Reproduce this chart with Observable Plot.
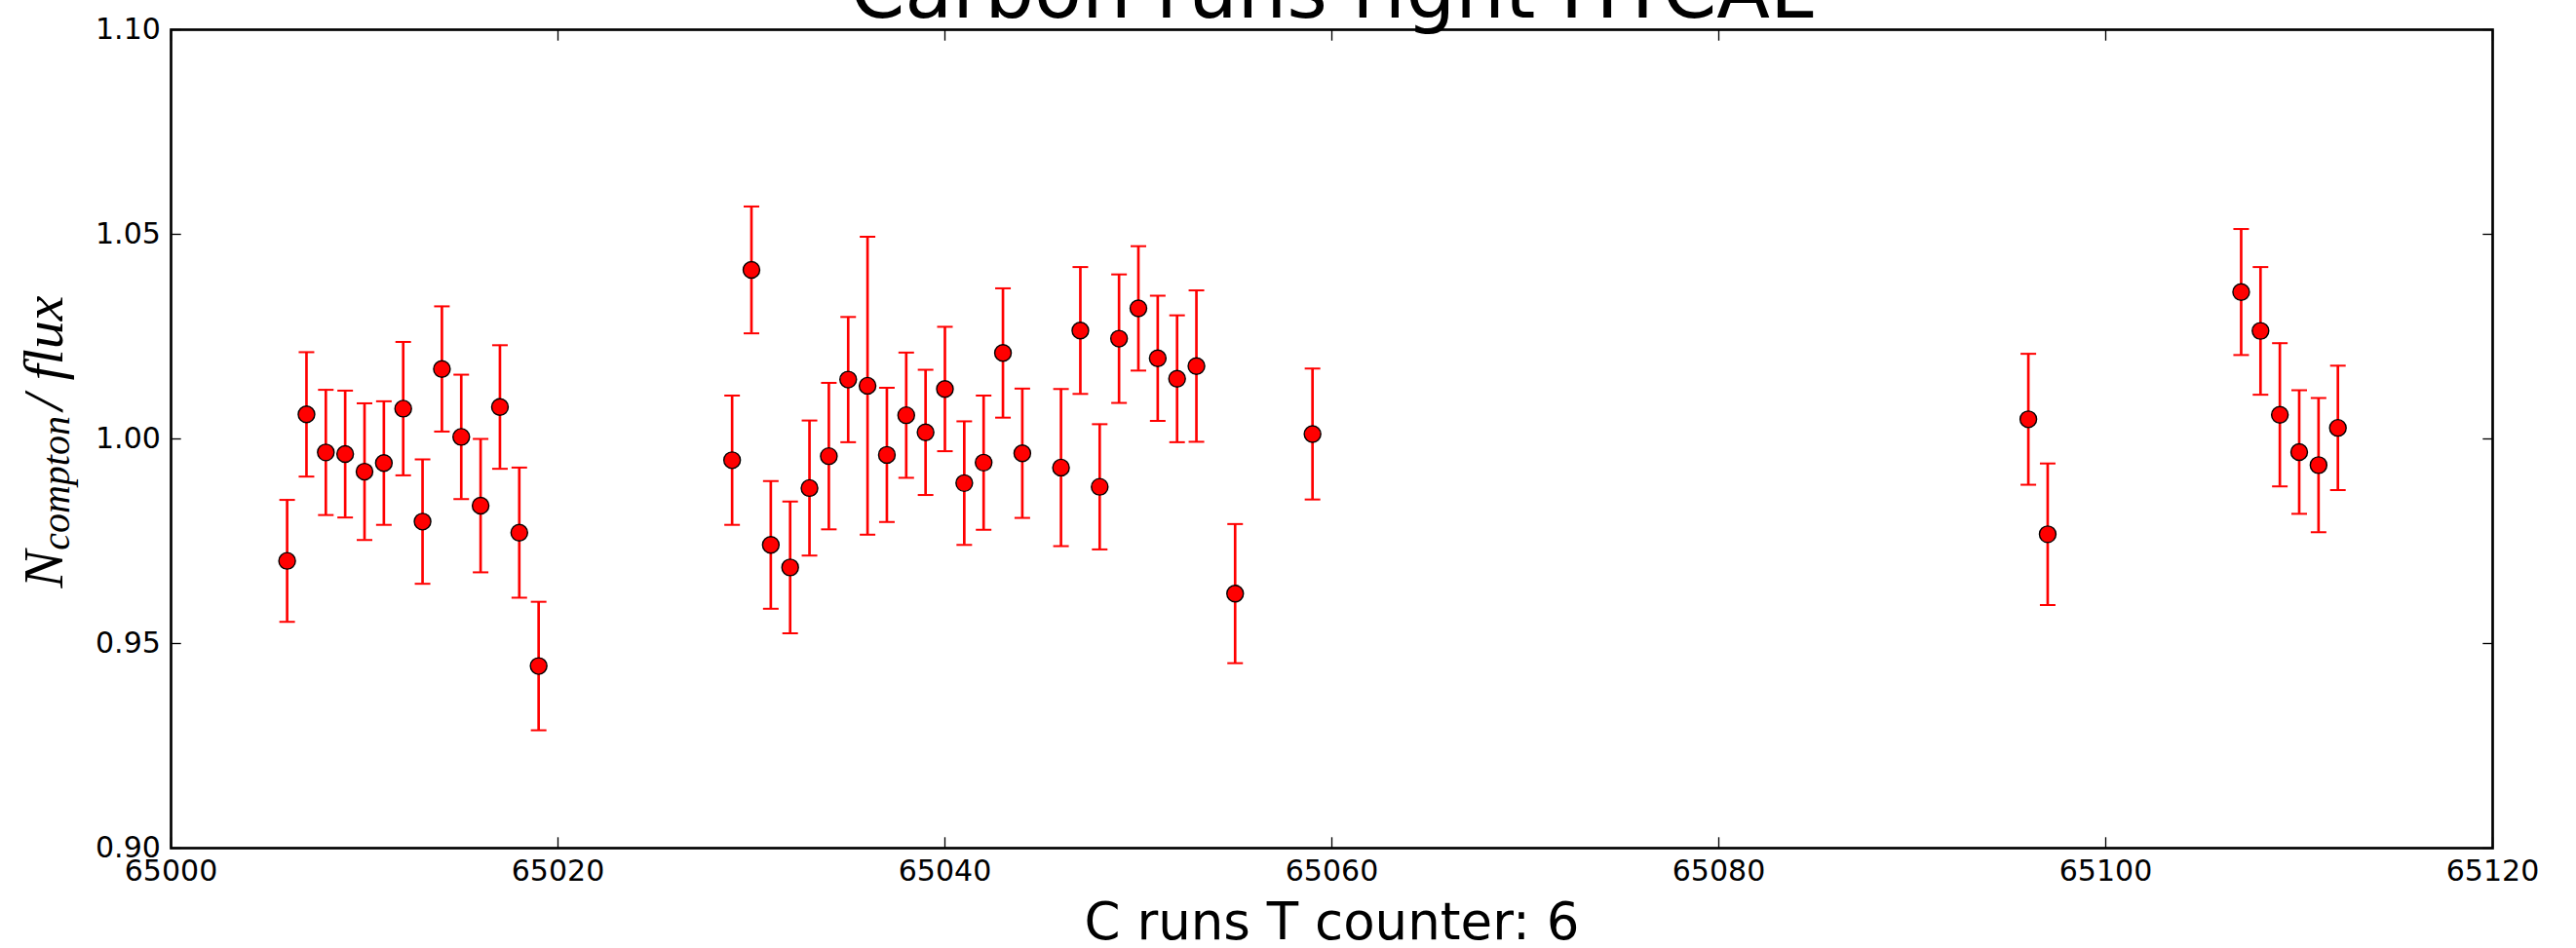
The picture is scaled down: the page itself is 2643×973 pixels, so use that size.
<!DOCTYPE html>
<html>
<head>
<meta charset="utf-8">
<script src="https://cdn.jsdelivr.net/npm/d3@7"></script>
<script src="https://cdn.jsdelivr.net/npm/@observablehq/plot@0.6"></script>
<style>
  html, body { margin: 0; padding: 0; background: #ffffff; }
  #chart svg { display: block; }
</style>
</head>
<body>
<div id="chart"></div>
<script>
// ---- data ----
const runs = [
  65006, 65007, 65008, 65009, 65010, 65011, 65012, 65013, 65014, 65015, 65016, 65017, 65018, 65019,
  65029, 65030, 65031, 65032, 65033, 65034, 65035, 65036, 65037, 65038, 65039, 65040, 65041, 65042, 65043, 65044,
  65046, 65047, 65048, 65049, 65050, 65051, 65052, 65053, 65055, 65059,
  65096, 65097, 65107, 65108, 65109, 65110, 65111, 65112
];
const ratio = [
  0.9702, 1.0060, 0.9967, 0.9963, 0.9920, 0.9941, 1.0074, 0.9798, 1.0171, 1.0005, 0.9837, 1.0078, 0.9771, 0.9445,
  0.9948, 1.0413, 0.9741, 0.9686, 0.9880, 0.9958, 1.0145, 1.0130, 0.9961, 1.0058, 1.0016, 1.0122, 0.9892, 0.9942, 1.0210, 0.9965,
  0.9930, 1.0265, 0.9883, 1.0245, 1.0319, 1.0197, 1.0147, 1.0178, 0.9622, 1.0012,
  1.0048, 0.9767, 1.0359, 1.0264, 1.0059, 0.9968, 0.9936, 1.0027
];
const err = [
  0.0149, 0.0152, 0.0153, 0.0155, 0.0167, 0.0151, 0.0163, 0.0152, 0.0153, 0.0152, 0.0163, 0.0151, 0.0159, 0.0157,
  0.0158, 0.0155, 0.0156, 0.0161, 0.0165, 0.0179, 0.0153, 0.0364, 0.0164, 0.0153, 0.0153, 0.0152, 0.0151, 0.0164, 0.0158, 0.0158,
  0.0192, 0.0155, 0.0153, 0.0157, 0.0152, 0.0153, 0.0155, 0.0185, 0.0170, 0.0160,
  0.0160, 0.0173, 0.0154, 0.0156, 0.0175, 0.0151, 0.0164, 0.0152
];
const xTicks = [65000, 65020, 65040, 65060, 65080, 65100, 65120];
const yTicks = [0.90, 0.95, 1.00, 1.05, 1.10];
const xDomain = [65000, 65120];
const yDomain = [0.90, 1.10];
const title = "Carbon runs right HYCAL";
const xLabel = "C runs T counter: 6";
const yLabelParts = ["N", "compton", "/ flux"];

// ---- table built from the arrays ----
const data = runs.map((r, i) => ({run: r, v: ratio[i], lo: ratio[i] - err[i], hi: ratio[i] + err[i]}));

// horizontal cap symbol (half-width = dot radius)
const capSymbol = {
  draw(ctx, size) {
    const w = Math.sqrt(size / Math.PI);
    ctx.moveTo(-w, 0);
    ctx.lineTo(w, 0);
  }
};

const RED = "#ff0000";
const plot = Plot.plot({
  width: 2643,
  height: 973,
  marginLeft: 175,
  marginRight: 86,
  marginTop: 30,
  marginBottom: 103,
  style: {fontFamily: "'DejaVu Sans', sans-serif", background: "#ffffff", color: "#000000", overflow: "visible"},
  x: {domain: xDomain},
  y: {domain: yDomain},
  marks: [
    Plot.ruleX(data, {x: "run", y1: "lo", y2: "hi", stroke: RED, strokeWidth: 2.67}),
    Plot.dot(data, {x: "run", y: "lo", symbol: capSymbol, r: 8, stroke: RED, strokeWidth: 2, fill: "none"}),
    Plot.dot(data, {x: "run", y: "hi", symbol: capSymbol, r: 8, stroke: RED, strokeWidth: 2, fill: "none"}),
    Plot.dot(data, {x: "run", y: "v", r: 8.5, fill: RED, stroke: "#000000", strokeWidth: 1.4}),
    Plot.axisX({anchor: "bottom", ticks: xTicks, tickSize: -10.7, tickPadding: 23, tickFormat: d => String(d), fontSize: 30, strokeWidth: 1.33, label: null}),
    Plot.axisX({anchor: "top", ticks: xTicks, tickSize: -10.7, fill: "none", strokeWidth: 1.33, label: null}),
    Plot.axisY({anchor: "left", ticks: yTicks, tickSize: -10.7, tickPadding: 21.4, tickFormat: d3.format(".2f"), fontSize: 30, strokeWidth: 1.33, label: null}),
    Plot.axisY({anchor: "right", ticks: yTicks, tickSize: -10.7, fill: "none", strokeWidth: 1.33, label: null}),
    Plot.frame({stroke: "#000000", strokeWidth: 2.67}),
    Plot.text([title], {frameAnchor: "top", dy: -13, lineAnchor: "bottom", fontSize: 80, fill: "#000000"}),
    Plot.text([xLabel], {frameAnchor: "bottom", dy: 93, lineAnchor: "bottom", fontSize: 53, fill: "#000000"}),
    Plot.text([yLabelParts.join("")], {frameAnchor: "left", dx: -130, dy: 3, rotate: -90, lineAnchor: "middle", textAnchor: "middle",
      fontSize: 58, fontFamily: "'Liberation Serif', serif", fontStyle: "italic", fill: "#000000"})
  ]
});

// turn the y label into N with a subscript
const yl = Array.from(plot.querySelectorAll("text")).find(t => t.textContent === yLabelParts.join(""));
if (yl) {
  yl.textContent = "";
  const ns = "http://www.w3.org/2000/svg";
  const t1 = document.createElementNS(ns, "tspan");
  t1.textContent = yLabelParts[0];
  const t2 = document.createElementNS(ns, "tspan");
  t2.textContent = yLabelParts[1];
  t2.setAttribute("font-size", "40");
  t2.setAttribute("dy", "7");
  const t3 = document.createElementNS(ns, "tspan");
  t3.textContent = yLabelParts[2];
  t3.setAttribute("dy", "-7");
  t3.setAttribute("dx", "6");
  yl.append(t1, t2, t3);
}

document.getElementById("chart").append(plot);
</script>
</body>
</html>
